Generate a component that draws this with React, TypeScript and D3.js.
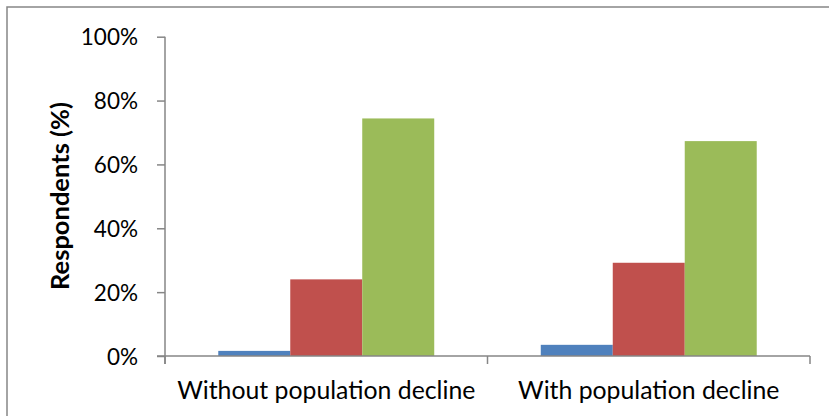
import React, { useEffect, useRef } from "react";
import * as d3 from "d3";

const categories = ["Without population decline", "With population decline"];
const seriesNames = ["Series A", "Series B", "Series C"];
const seriesColors = ["#4F81BD", "#C0504D", "#9BBB59"];
const seriesA = [0.016, 0.035];
const seriesB = [0.24, 0.292];
const seriesC = [0.744, 0.673];
const yTicks = [0, 0.2, 0.4, 0.6, 0.8, 1.0];
const yTitle = "Respondents (%)";

const W = 829;
const H = 416;
const FONT = "Lato, 'Noto Sans', sans-serif";

export default function App() {
  const ref = useRef<SVGSVGElement | null>(null);

  useEffect(() => {
    const svg = d3.select(ref.current);
    svg.selectAll("*").remove();

    const left = 165, right = 810, top = 36.7, bottom = 356;
    const axisColor = "#868686";

    svg.append("rect")
      .attr("x", 7).attr("y", 7)
      .attr("width", W + 20).attr("height", H + 20)
      .attr("fill", "white")
      .attr("stroke", axisColor).attr("stroke-width", 1.5);

    const y = d3.scaleLinear().domain([0, 1]).range([bottom, top]);
    const x0 = d3.scaleBand<string>().domain(categories).range([left, right]).padding(0);
    const x1 = d3.scaleBand<string>().domain(seriesNames).range([0, x0.bandwidth()])
      .paddingInner(0).paddingOuter(0.74);

    const data = [seriesA, seriesB, seriesC];

    const g = svg.append("g");
    categories.forEach((c, ci) => {
      seriesNames.forEach((s, si) => {
        const v = data[si][ci];
        g.append("rect")
          .attr("x", (x0(c) as number) + (x1(s) as number))
          .attr("y", y(v))
          .attr("width", x1.bandwidth())
          .attr("height", y(0) - y(v))
          .attr("fill", seriesColors[si]);
      });
    });

    // y axis
    const yAxis = d3.axisLeft(y).tickValues(yTicks)
      .tickFormat((d) => d3.format(".0%")(d as number))
      .tickSize(8).tickPadding(19);
    const ya = svg.append("g").attr("transform", `translate(${left},0)`).call(yAxis);
    ya.select(".domain").attr("stroke", axisColor).attr("stroke-width", 1.5)
      .attr("d", `M0,${top}V${bottom + 8}`);
    ya.selectAll(".tick line").attr("stroke", axisColor).attr("stroke-width", 1.5);
    ya.selectAll(".tick text")
      .attr("fill", "#000").attr("font-family", FONT).attr("font-size", 22.5)
      .attr("dy", "0.36em");

    // x axis
    svg.append("line")
      .attr("x1", left - 8).attr("x2", right)
      .attr("y1", bottom).attr("y2", bottom)
      .attr("stroke", axisColor).attr("stroke-width", 1.5);
    const boundaries = [left, ...categories.map((c) => (x0(c) as number) + x0.bandwidth())];
    boundaries.forEach((bx) => {
      svg.append("line")
        .attr("x1", bx).attr("x2", bx)
        .attr("y1", bottom).attr("y2", bottom + 8)
        .attr("stroke", axisColor).attr("stroke-width", 1.5);
    });
    categories.forEach((c) => {
      svg.append("text")
        .attr("x", (x0(c) as number) + x0.bandwidth() / 2)
        .attr("y", 399)
        .attr("text-anchor", "middle")
        .attr("font-family", FONT).attr("font-size", 24.8)
        .attr("fill", "#000")
        .text(c);
    });

    // y title
    svg.append("text")
      .attr("transform", `translate(69,196) rotate(-90)`)
      .attr("text-anchor", "middle")
      .attr("font-family", FONT).attr("font-size", 25.5).attr("font-weight", "bold")
      .attr("fill", "#000")
      .text(yTitle);
  }, []);

  return (
    <svg ref={ref} width={W} height={H} style={{ position: "absolute", left: 0, top: 0, display: "block" }} />
  );
}
